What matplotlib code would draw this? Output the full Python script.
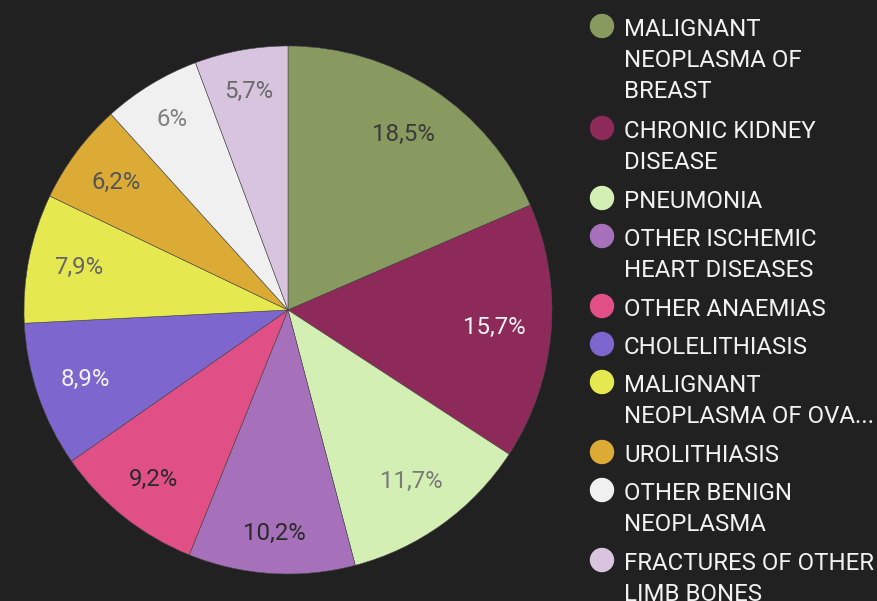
import numpy as np
import matplotlib.pyplot as plt

plt.rcParams['font.family'] = ['Roboto', 'DejaVu Sans']

# data
categories = [
    'MALIGNANT\nNEOPLASMA OF\nBREAST',
    'CHRONIC KIDNEY\nDISEASE',
    'PNEUMONIA',
    'OTHER ISCHEMIC\nHEART DISEASES',
    'OTHER ANAEMIAS',
    'CHOLELITHIASIS',
    'MALIGNANT\nNEOPLASMA OF OVA...',
    'UROLITHIASIS',
    'OTHER BENIGN\nNEOPLASMA',
    'FRACTURES OF OTHER\nLIMB BONES',
]
values = [18.5, 15.7, 11.7, 10.2, 9.2, 8.9, 7.9, 6.2, 6.0, 5.7]
pct_labels = ['18,5%', '15,7%', '11,7%', '10,2%', '9,2%', '8,9%', '7,9%', '6,2%', '6%', '5,7%']

colors = ['#899a60', '#8e2a59', '#d4efb4', '#a770ba', '#e04f85',
          '#7e66cf', '#e5e94f', '#dbab36', '#f0f0f0', '#d9c4df']
label_colors = ['#3a3a3a', '#f2f2f2', '#7a7a7a', '#2a2a2a', '#2a2a2a',
                '#f2f2f2', '#666666', '#555555', '#808080', '#6a6a6a']
# how far out each percentage sits (fraction of radius)
label_dist = [0.795, 0.785, 0.80, 0.85, 0.82, 0.81, 0.81, 0.81, 0.845, 0.84]

bg = '#212121'
W, H = 877, 601
fs = 17.3

fig = plt.figure(figsize=(W / 100, H / 100), dpi=100, facecolor=bg)

# pie: centre (288, 310), radius 264 px
cx, cy, r = 288, 310, 264
ax = fig.add_axes([(cx - r) / W, (H - cy - r) / H, 2 * r / W, 2 * r / H])
ax.set_facecolor(bg)
wedges, texts = ax.pie(values, colors=colors, labels=pct_labels,
                       startangle=90, counterclock=False,
                       labeldistance=0.8,
                       wedgeprops=dict(linewidth=0.4, edgecolor='#4a4a4a'),
                       textprops=dict(fontsize=fs))
for w, t, c, d in zip(wedges, texts, label_colors, label_dist):
    mid = np.deg2rad((w.theta1 + w.theta2) / 2)
    t.set_position((d * np.cos(mid), d * np.sin(mid)))
    t.set_color(c)
    t.set_ha('center')
    t.set_va('center')
ax.set_xlim(-1, 1)
ax.set_ylim(-1, 1)
ax.set_aspect('equal')
ax.axis('off')

# legend, drawn by hand
y = 26
line_h, gap = 32, 6
for lab, c in zip(categories, colors):
    fig.text(624 / W, 1 - (y - 8) / H, lab, color='#f2f2f2', fontsize=fs,
             ha='left', va='top', linespacing=1.44)
    fig.patches.append(plt.Circle((602, H - y), 11.5, color=c,
                                  transform=None))
    y += line_h * (lab.count('\n') + 1) + gap

fig.savefig('out.png', dpi=100, facecolor=bg)
